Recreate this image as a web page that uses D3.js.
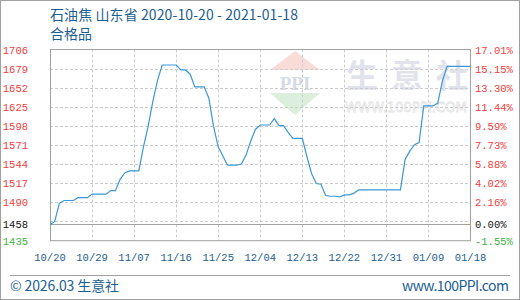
<!DOCTYPE html>
<html><head><meta charset="utf-8">
<script src="https://cdn.jsdelivr.net/npm/d3@7"></script>
<style>html,body{margin:0;padding:0;background:#fff;}svg{display:block;}</style>
</head><body>
<svg id="c" width="520" height="300"></svg>
<script>
const dates = ["10/20","10/21","10/22","10/23","10/24","10/25","10/26","10/27","10/28","10/29","10/30","10/31",
"11/01","11/02","11/03","11/04","11/05","11/06","11/07","11/08","11/09","11/10","11/11","11/12","11/13","11/14","11/15","11/16",
"11/17","11/18","11/19","11/20","11/21","11/22","11/23","11/24","11/25","11/26","11/27","11/28","11/29","11/30",
"12/01","12/02","12/03","12/04","12/05","12/06","12/07","12/08","12/09","12/10","12/11","12/12","12/13","12/14","12/15","12/16",
"12/17","12/18","12/19","12/20","12/21","12/22","12/23","12/24","12/25","12/26","12/27","12/28","12/29","12/30","12/31",
"01/01","01/02","01/03","01/04","01/05","01/06","01/07","01/08","01/09","01/10","01/11","01/12","01/13","01/14","01/15","01/16","01/17","01/18"];
const prices = [1458,1462,1488,1492,1492,1492,1496,1496,1496,1501,1501,1501,
1501,1506,1506,1522,1531,1534,1534,1534,1568,1597,1632,1662,1684,1684,1684,1684,
1677,1677,1671,1653,1653,1653,1637,1597,1568,1555,1542,1542,1542,1544,
1557,1577,1593,1599,1599,1599,1608,1598,1598,1588,1580,1580,1580,1554,1530,1516,
1515,1499,1498,1498,1497,1500,1500,1502,1507,1507,1507,1507,1507,1507,1507,
1507,1507,1507,1550,1562,1571,1574,1626,1626,1626,1630,1662,1682,1682,1682,1682,1682,1682];
const xTickLabels = ["10/20","10/29","11/07","11/16","11/25","12/04","12/13","12/22","12/31","01/09","01/18"];
const leftTicks = [1706,1679,1652,1625,1598,1571,1544,1517,1490];
const gridOnly = [1463];
const baseValue = 1458;
const minValue = 1435;
const rightLabels = ["17.01%","15.15%","13.30%","11.44%","9.59%","7.73%","5.88%","4.02%","2.16%"];
const baseLabelR = "0.00%";
const minLabelR = "-1.55%";
const titleText = "石油焦 山东省 2020-10-20 - 2021-01-18";
const subTitle = "合格品";
const wmChars = ["生","意","社"];

const svg = d3.select("#c");
const L = 50, R = 470.5, T = 49.5, B = 240.7;
const x = d3.scalePoint().domain(dates).range([L, R]);
const y = d3.scaleLinear().domain([minValue, 1706]).range([B, T]);
const blue = "#1b5e91";
const mono = "'Liberation Mono','DejaVu Sans Mono',monospace";
const cjk = "'Noto Sans CJK SC','Noto Sans',sans-serif";

// outer border
svg.append("rect").attr("x",0.5).attr("y",0.5).attr("width",519).attr("height",299)
  .attr("fill","#fff").attr("stroke","#a0a0a0");

// watermark
const wm = svg.append("g");
const cx = 295;
wm.append("path").attr("d",`M${cx},51 L${cx+25},70 L${cx-25},70 Z`).attr("fill","#f9dcd8");
wm.append("text").attr("x",cx).attr("y",90).attr("text-anchor","middle")
  .attr("font-family","'Liberation Serif',serif").attr("font-weight","bold").attr("font-size",19)
  .attr("fill","#d6dbe8").text("PPI");
wm.append("path").attr("d",`M${cx-25},93 L${cx+25},93 L${cx},115 Z`).attr("fill","#dcefdc");
wm.selectAll("text.wc").data(wmChars).join("text").attr("class","wc")
  .attr("x",(d,i)=>346+i*45).attr("y",87).attr("font-family",cjk).attr("font-size",32)
  .attr("font-weight","bold").attr("fill","#e1e3ec").text(d=>d);
wm.append("text").attr("x",345).attr("y",112).attr("font-family","'DejaVu Sans',sans-serif").attr("font-size",14)
  .attr("textLength",122).attr("lengthAdjust","spacingAndGlyphs").attr("fill","none").attr("stroke","#e4e4e4").attr("stroke-width",0.8).text("WWW.100PPI.COM");

// grid
const dash = "3,2";
const gridVals = leftTicks.slice(1).concat(gridOnly);
svg.append("g").selectAll("line").data(gridVals).join("line")
  .attr("x1",L).attr("x2",R).attr("y1",d=>Math.round(y(d))+0.5).attr("y2",d=>Math.round(y(d))+0.5)
  .attr("stroke","#cccccc").attr("stroke-dasharray",dash);
svg.append("g").selectAll("line").data(xTickLabels.slice(1,-1)).join("line")
  .attr("x1",d=>Math.round(x(d))+0.5).attr("x2",d=>Math.round(x(d))+0.5).attr("y1",T).attr("y2",B)
  .attr("stroke","#cccccc").attr("stroke-dasharray",dash);
// base line
svg.append("line").attr("x1",L).attr("x2",R).attr("y1",Math.round(y(baseValue))+0.5).attr("y2",Math.round(y(baseValue))+0.5)
  .attr("stroke","#a0a0a0");
// frame
svg.append("rect").attr("x",L+0.5).attr("y",T).attr("width",R-L-0.5).attr("height",B-T)
  .attr("fill","none").attr("stroke","#a0a0a0");

// line
svg.append("path").datum(prices)
  .attr("d", d3.line().x((d,i)=>x(dates[i])).y(d=>y(d)))
  .attr("fill","none").attr("stroke","#3b98d8").attr("stroke-width",1.2);

// left axis labels
const leftAll = leftTicks.map(v=>({v,c:"#f03c3c"})).concat([{v:baseValue,c:"#111"},{v:minValue,c:"#3cb43c"}]);
svg.append("g").selectAll("text").data(leftAll).join("text")
  .attr("x",28).attr("y",d=>y(d.v)+4).attr("text-anchor","end")
  .attr("font-family",mono).attr("font-size",10.5).attr("fill",d=>d.c).text(d=>d.v);
const rightAll = rightLabels.map((t,i)=>({v:leftTicks[i],t,c:"#f03c3c"}))
  .concat([{v:baseValue,t:baseLabelR,c:"#111"},{v:minValue,t:minLabelR,c:"#3cb43c"}]);
svg.append("g").selectAll("text").data(rightAll).join("text")
  .attr("x",475).attr("y",d=>y(d.v)+4)
  .attr("font-family",mono).attr("font-size",10.5).attr("fill",d=>d.c).text(d=>d.t);

// x axis labels
svg.append("g").selectAll("text").data(xTickLabels).join("text")
  .attr("x",d=>x(d)).attr("y",261).attr("text-anchor","middle")
  .attr("font-family",mono).attr("font-size",10.5).attr("fill",blue).text(d=>d);

// title
svg.append("text").attr("x",50).attr("y",19.5).attr("font-family",cjk).attr("font-size",14)
  .attr("textLength",248).attr("lengthAdjust","spacing").attr("fill",blue).text(titleText);
svg.append("text").attr("x",50).attr("y",39).attr("font-family",cjk).attr("font-size",14)
  .attr("fill",blue).text(subTitle);

// footer
svg.append("line").attr("x1",10).attr("x2",510).attr("y1",275.5).attr("y2",275.5).attr("stroke","#a0a0a0");
svg.append("text").attr("x",10).attr("y",291).attr("font-family",cjk).attr("font-size",14)
  .attr("textLength",109).attr("lengthAdjust","spacing").attr("fill",blue).text("© 2026.03 生意社");
svg.append("text").attr("x",509).attr("y",291).attr("text-anchor","end").attr("font-family",cjk).attr("font-size",14)
  .attr("textLength",107).attr("lengthAdjust","spacing").attr("fill",blue).text("www.100PPI.com");
</script>
</body></html>
